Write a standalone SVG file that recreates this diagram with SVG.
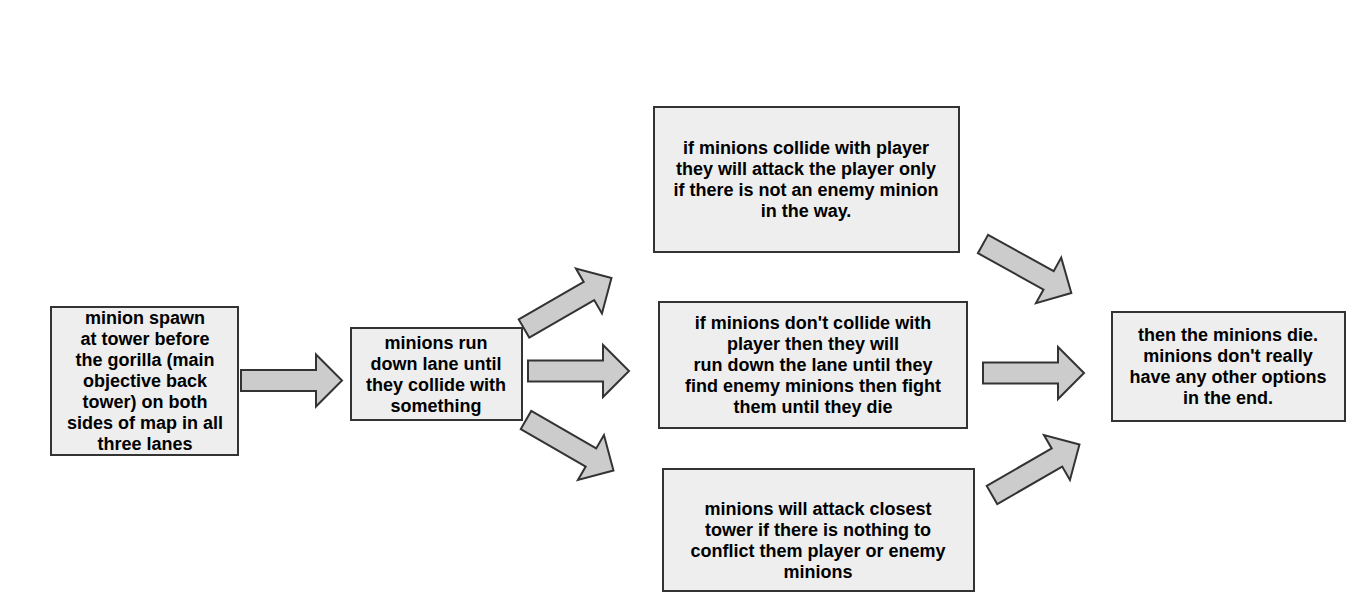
<svg xmlns="http://www.w3.org/2000/svg" xmlns:xlink="http://www.w3.org/1999/xlink" width="1368" height="612" viewBox="0 0 1368 612">
<style>
.box{fill:#eeeeee;stroke:#333333;stroke-width:2}
.arr{fill:#cccccc;stroke:#333333;stroke-width:2;stroke-linejoin:miter}
.t{font-family:"Liberation Sans",Arial,sans-serif;font-weight:bold;font-size:18px;fill:#000000;text-anchor:middle}
</style>
<defs>
<path id="arrow" class="arr" d="M0,-10.5 L75,-10.5 L75,-26 L101,0 L75,26 L75,10.5 L0,10.5 Z"/>
</defs>
<rect width="1368" height="612" fill="#ffffff"/>
<g id="connectors">
<use xlink:href="#arrow" transform="translate(241,380.5)"/>
<use xlink:href="#arrow" transform="translate(528,371)"/>
<use xlink:href="#arrow" transform="translate(524,328.5) rotate(-30)"/>
<use xlink:href="#arrow" transform="translate(526,420) rotate(30)"/>
<use xlink:href="#arrow" transform="translate(983,244) rotate(29)"/>
<use xlink:href="#arrow" transform="translate(983,373)"/>
<use xlink:href="#arrow" transform="translate(992,495) rotate(-30)"/>
</g>
<g id="node1">
<rect class="box" x="51" y="307" width="187" height="148"/>
<text class="t" x="145" y="324">minion spawn</text>
<text class="t" x="145" y="345">at tower before</text>
<text class="t" x="145" y="366">the gorilla (main</text>
<text class="t" x="145" y="387">objective back</text>
<text class="t" x="145" y="408">tower) on both</text>
<text class="t" x="145" y="429">sides of map in all</text>
<text class="t" x="145" y="450">three lanes</text>
</g>
<g id="node2">
<rect class="box" x="351" y="328" width="171" height="92"/>
<text class="t" x="436" y="349">minions run</text>
<text class="t" x="436" y="370">down lane until</text>
<text class="t" x="436" y="391">they collide with</text>
<text class="t" x="436" y="412">something</text>
</g>
<g id="node3">
<rect class="box" x="654" y="107" width="305" height="145"/>
<text class="t" x="806" y="154">if minions collide with player</text>
<text class="t" x="806" y="175">they will attack the player only</text>
<text class="t" x="806" y="196">if there is not an enemy minion</text>
<text class="t" x="806" y="217">in the way.</text>
</g>
<g id="node4">
<rect class="box" x="659" y="302" width="308" height="126"/>
<text class="t" x="813" y="329">if minions don't collide with</text>
<text class="t" x="813" y="350">player then they will</text>
<text class="t" x="813" y="371">run down the lane until they</text>
<text class="t" x="813" y="392">find enemy minions then fight</text>
<text class="t" x="813" y="413">them until they die</text>
</g>
<g id="node5">
<rect class="box" x="663" y="469" width="311" height="122"/>
<text class="t" x="818" y="515">minions will attack closest</text>
<text class="t" x="818" y="536">tower if there is nothing to</text>
<text class="t" x="818" y="557">conflict them player or enemy</text>
<text class="t" x="818" y="578">minions</text>
</g>
<g id="node6">
<rect class="box" x="1112" y="312" width="233" height="109"/>
<text class="t" x="1228" y="341">then the minions die.</text>
<text class="t" x="1228" y="362">minions don't really</text>
<text class="t" x="1228" y="383">have any other options</text>
<text class="t" x="1228" y="404">in the end.</text>
</g>
</svg>
